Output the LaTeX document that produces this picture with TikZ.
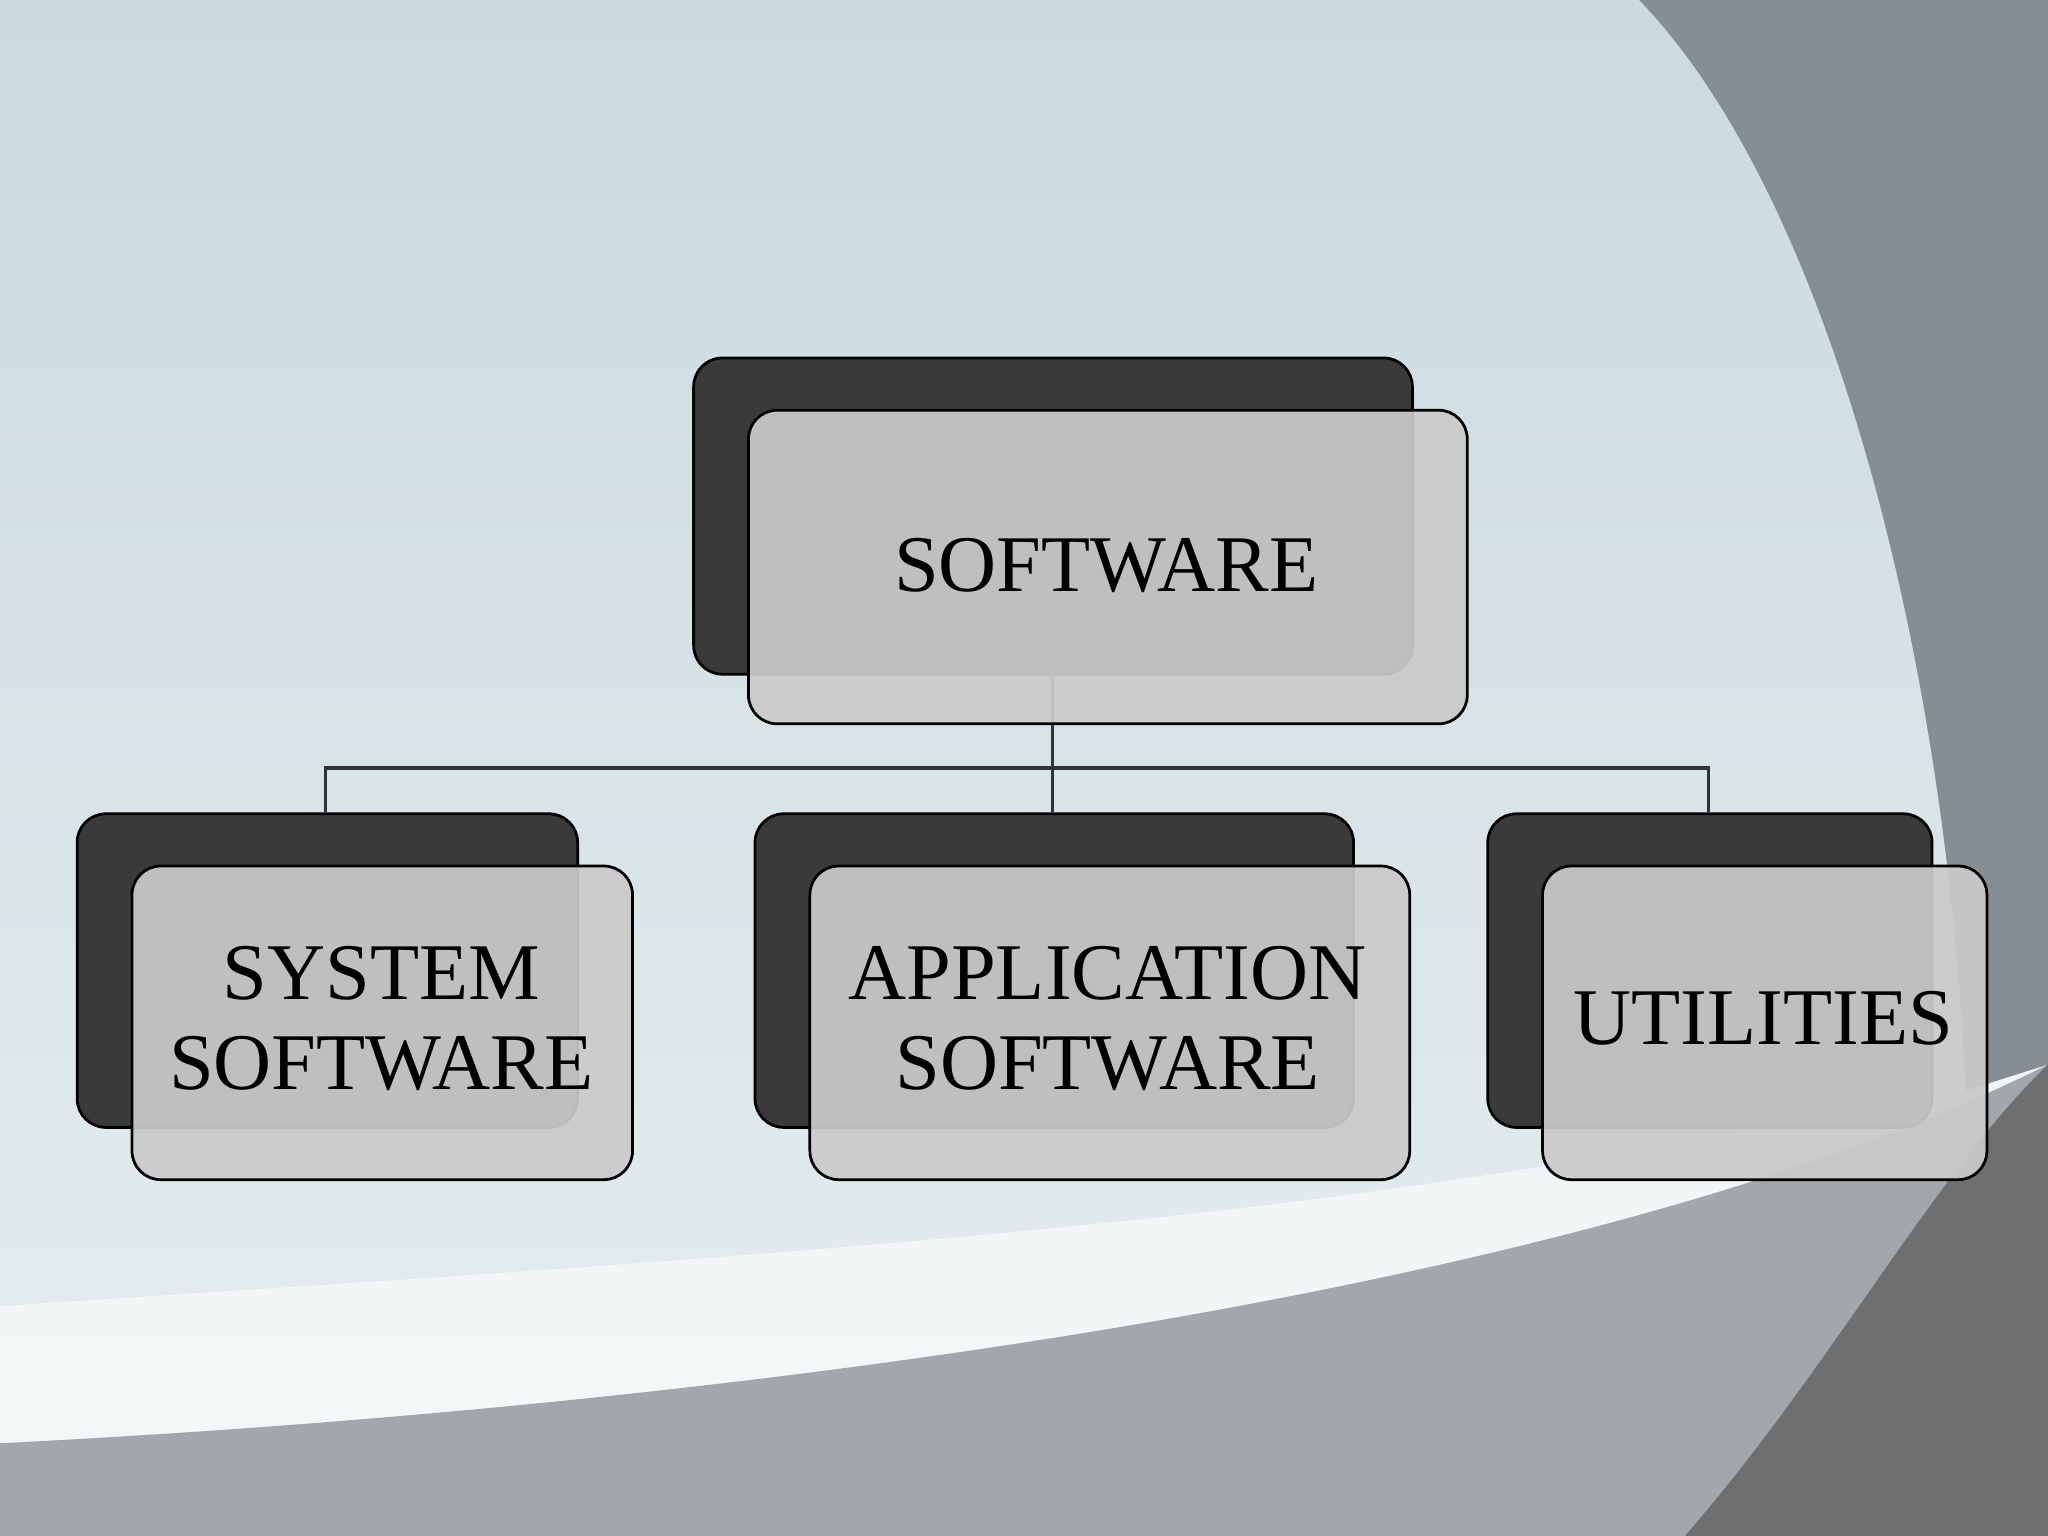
\documentclass[tikz,border=0pt]{standalone}
\usepackage{fontspec}
\setmainfont{Liberation Serif}
\definecolor{bgtop}{HTML}{CBDADF}
\definecolor{bgbot}{HTML}{E6EDEF}
\definecolor{grayR}{HTML}{848E93}
\definecolor{grayB}{HTML}{A3A7A9}
\definecolor{grayD}{HTML}{6E6F70}
\definecolor{backbox}{HTML}{3A3A3A}
\definecolor{frontbox}{HTML}{CACACA}
\tikzset{
  backb/.style={draw=black, fill=backbox, rounded corners=0.22cm, line width=0.6pt},
  frontb/.style={draw=black, fill=frontbox, fill opacity=0.93, rounded corners=0.22cm, line width=0.6pt},
  lbl/.style={align=center, font=\fontsize{17.5}{19.5}\selectfont, inner sep=0},
  conn/.style={draw=black!80, line width=0.7pt}
}
\begin{document}
\begin{tikzpicture}[x=0.01cm,y=-0.01cm]
\useasboundingbox (0,0) rectangle (1568,1176);
% background
\shade[top color=bgtop, bottom color=bgbot] (0,0) rectangle (1568,1176);
\fill[white, opacity=0.6] (0,1000) .. controls (600,960) and (1200,930) .. (1568,800) -- (1568,1176) -- (0,1176) -- cycle;
\fill[grayR] (1255,0) .. controls (1400,150) and (1490,500) .. (1505,835) -- (1568,815) -- (1568,0) -- cycle;
\fill[grayB] (0,1105) .. controls (500,1080) and (1200,1000) .. (1568,815) -- (1568,1176) -- (0,1176) -- cycle;
\fill[grayD] (1290,1176) .. controls (1400,1050) and (1480,900) .. (1568,815) -- (1568,1176) -- cycle;
% back boxes
\node[backb, minimum width=5.5cm, minimum height=2.42cm, anchor=north west] (b0) at (530,273) {};
\node[backb, minimum width=3.83cm, minimum height=2.4cm, anchor=north west] (b1) at (58,622) {};
\node[backb, minimum width=4.58cm, minimum height=2.4cm, anchor=north west] (b2) at (577,622) {};
\node[backb, minimum width=3.4cm, minimum height=2.4cm, anchor=north west] (b3) at (1138,622) {};
% connectors
\coordinate (j) at (806,588);
\draw[conn] (806,515) -- (j);
\draw[conn] (b1.north -| 249,0) -- (249,588) -- (1308,588) -- (b3.north -| 1308,0);
\draw[conn] (j) -- (b2.north -| 806,0);
% front boxes
\node[frontb, minimum width=5.5cm, minimum height=2.4cm, anchor=north west] (f0) at (572,313) {};
\node[frontb, minimum width=3.83cm, minimum height=2.4cm, anchor=north west] (f1) at (100,662) {};
\node[frontb, minimum width=4.59cm, minimum height=2.4cm, anchor=north west] (f2) at (619,662) {};
\node[frontb, minimum width=3.4cm, minimum height=2.4cm, anchor=north west] (f3) at (1180,662) {};
\node[lbl] (t0) at (847,433) {SOFTWARE};
\node[lbl] (t1) at (292,780) {SYSTEM\\SOFTWARE};
\node[lbl] (t2) at (848,780) {APPLICATION\\SOFTWARE};
\node[lbl] (t3) at (1350,780) {UTILITIES};
\end{tikzpicture}
\end{document}
